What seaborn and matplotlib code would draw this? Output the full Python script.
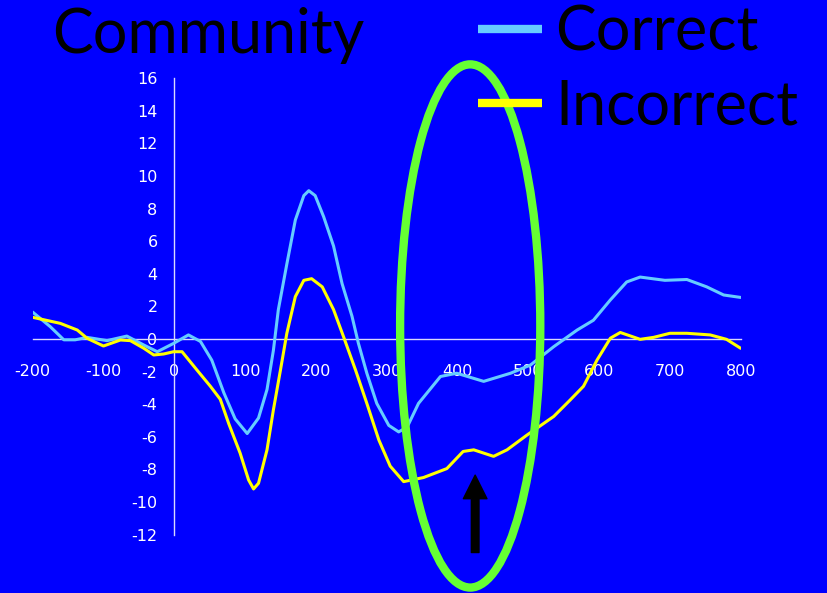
import numpy as np
import pandas as pd
import seaborn as sns
import matplotlib
matplotlib.use('Agg')
import matplotlib.pyplot as plt
from matplotlib.lines import Line2D
from matplotlib.patches import Ellipse

# ERP waveforms (ms, microvolts)
correct_ms = [-200, -175, -156, -140, -123, -95, -67, -43, -24, -1, 20, 37, 53, 70, 86,
              103, 119, 131, 140, 147, 159, 171, 183, 190, 199, 211, 225, 237, 251, 260,
              272, 286, 303, 317, 329, 345, 376, 399, 437, 475, 503, 536, 569, 592, 616,
              639, 658, 693, 724, 752, 776, 800]
correct_uv = [1.65, 0.75, -0.05, -0.05, 0.1, -0.1, 0.18, -0.37, -0.78, -0.27, 0.25, -0.15, -1.3, -3.3, -4.9,
              -5.8, -4.85, -3.1, -0.7, 1.8, 4.6, 7.3, 8.8, 9.1, 8.8, 7.5, 5.7, 3.4, 1.4, -0.25,
              -2.1, -3.95, -5.3, -5.7, -5.4, -3.95, -2.3, -2.1, -2.6, -2.1, -1.6, -0.47, 0.55, 1.15, 2.4,
              3.5, 3.8, 3.6, 3.65, 3.2, 2.7, 2.55]

incorrect_ms = [-200, -161, -137, -123, -100, -76, -62, -43, -29, -15, -1, 11, 32, 51, 65,
                77, 93, 105, 112, 119, 131, 140, 150, 159, 171, 183, 194, 209, 225, 239,
                256, 272, 289, 305, 324, 352, 385, 408, 423, 451, 470, 498, 536, 559, 578,
                597, 616, 630, 658, 677, 700, 724, 757, 780, 800]
incorrect_uv = [1.33, 0.96, 0.55, 0.04, -0.43, -0.06, -0.1, -0.57, -0.98, -0.92, -0.78, -0.78, -1.9, -2.9, -3.7,
                -5.2, -7.0, -8.65, -9.2, -8.85, -6.8, -4.35, -1.9, 0.35, 2.6, 3.6, 3.7, 3.2, 1.8, 0.15,
                -1.9, -3.95, -6.2, -7.8, -8.75, -8.5, -7.95, -6.9, -6.8, -7.2, -6.8, -5.9, -4.75, -3.75, -2.9,
                -1.3, 0.05, 0.4, -0.02, 0.1, 0.35, 0.35, 0.25, -0.02, -0.57]

conditions = ['Correct', 'Incorrect']
palette = {'Correct': '#66CCFF', 'Incorrect': '#FFFF00'}
x_ticks = list(range(-200, 801, 100))
y_ticks = list(range(-12, 17, 2))

df = pd.concat([
    pd.DataFrame({'ms': correct_ms, 'uV': correct_uv, 'cond': 'Correct'}),
    pd.DataFrame({'ms': incorrect_ms, 'uV': incorrect_uv, 'cond': 'Incorrect'}),
])

bg = '#0000FF'
sns.set_style('white')
plt.rcParams['font.family'] = ['DejaVu Sans']
plt.rcParams['axes.unicode_minus'] = False

fig = plt.figure(figsize=(8.27, 5.93), dpi=100, facecolor=bg)
ax = fig.add_axes([0.0395, 0.0985, 0.8561, 0.7696])
ax.set_facecolor(bg)

sns.lineplot(data=df, x='ms', y='uV', hue='cond', palette=palette, linewidth=2.2,
             ax=ax, legend=False, sort=True)

ax.set_xlim(-200, 800)
ax.set_ylim(-12, 16)
ax.set_xticks(x_ticks)
ax.set_yticks(y_ticks)
ax.set_xlabel('')
ax.set_ylabel('')

axis_col = '#D8D8FF'
for s in ['top', 'right']:
    ax.spines[s].set_visible(False)
ax.spines['left'].set_position(('data', 0))
ax.spines['bottom'].set_position(('data', 0))
for s in ['left', 'bottom']:
    ax.spines[s].set_color(axis_col)
    ax.spines[s].set_linewidth(1)
    ax.spines[s].set_zorder(1)

ax.tick_params(axis='x', direction='out', length=5, width=1, color=axis_col,
               labelcolor='white', labelsize=11.5, pad=13)
ax.tick_params(axis='y', direction='out', length=5, width=1, color=axis_col,
               labelcolor='white', labelsize=11.5, pad=7)

# green ellipse and arrow highlighting the N400 window
ell = Ellipse((418, 0.8), width=198, height=32.1, fill=False, edgecolor='#66FF33',
              linewidth=6, clip_on=False, zorder=5)
ax.add_patch(ell)
ax.annotate('', xy=(425, -8.35), xytext=(425, -13.1),
            arrowprops=dict(facecolor='black', edgecolor='black', width=5.5,
                            headwidth=17, headlength=17, shrink=0),
            annotation_clip=False, zorder=6)

big_font = ['Lato', 'DejaVu Sans']
fig.text(52 / 827, 1 - 53 / 593, 'Community', fontsize=44, color='black',
         va='baseline', family=big_font)

handles = [Line2D([], [], color=palette[c], linewidth=6, solid_capstyle='butt') for c in conditions]
leg = fig.legend(handles, conditions, loc='upper left', bbox_to_anchor=(0.578, 0.992),
                 frameon=False, prop={'family': big_font, 'size': 44},
                 handlelength=1.05, handletextpad=0.22,
                 labelspacing=0.28, borderpad=0, borderaxespad=0, labelcolor='black')

fig.savefig('out.png', dpi=100, facecolor=bg)
